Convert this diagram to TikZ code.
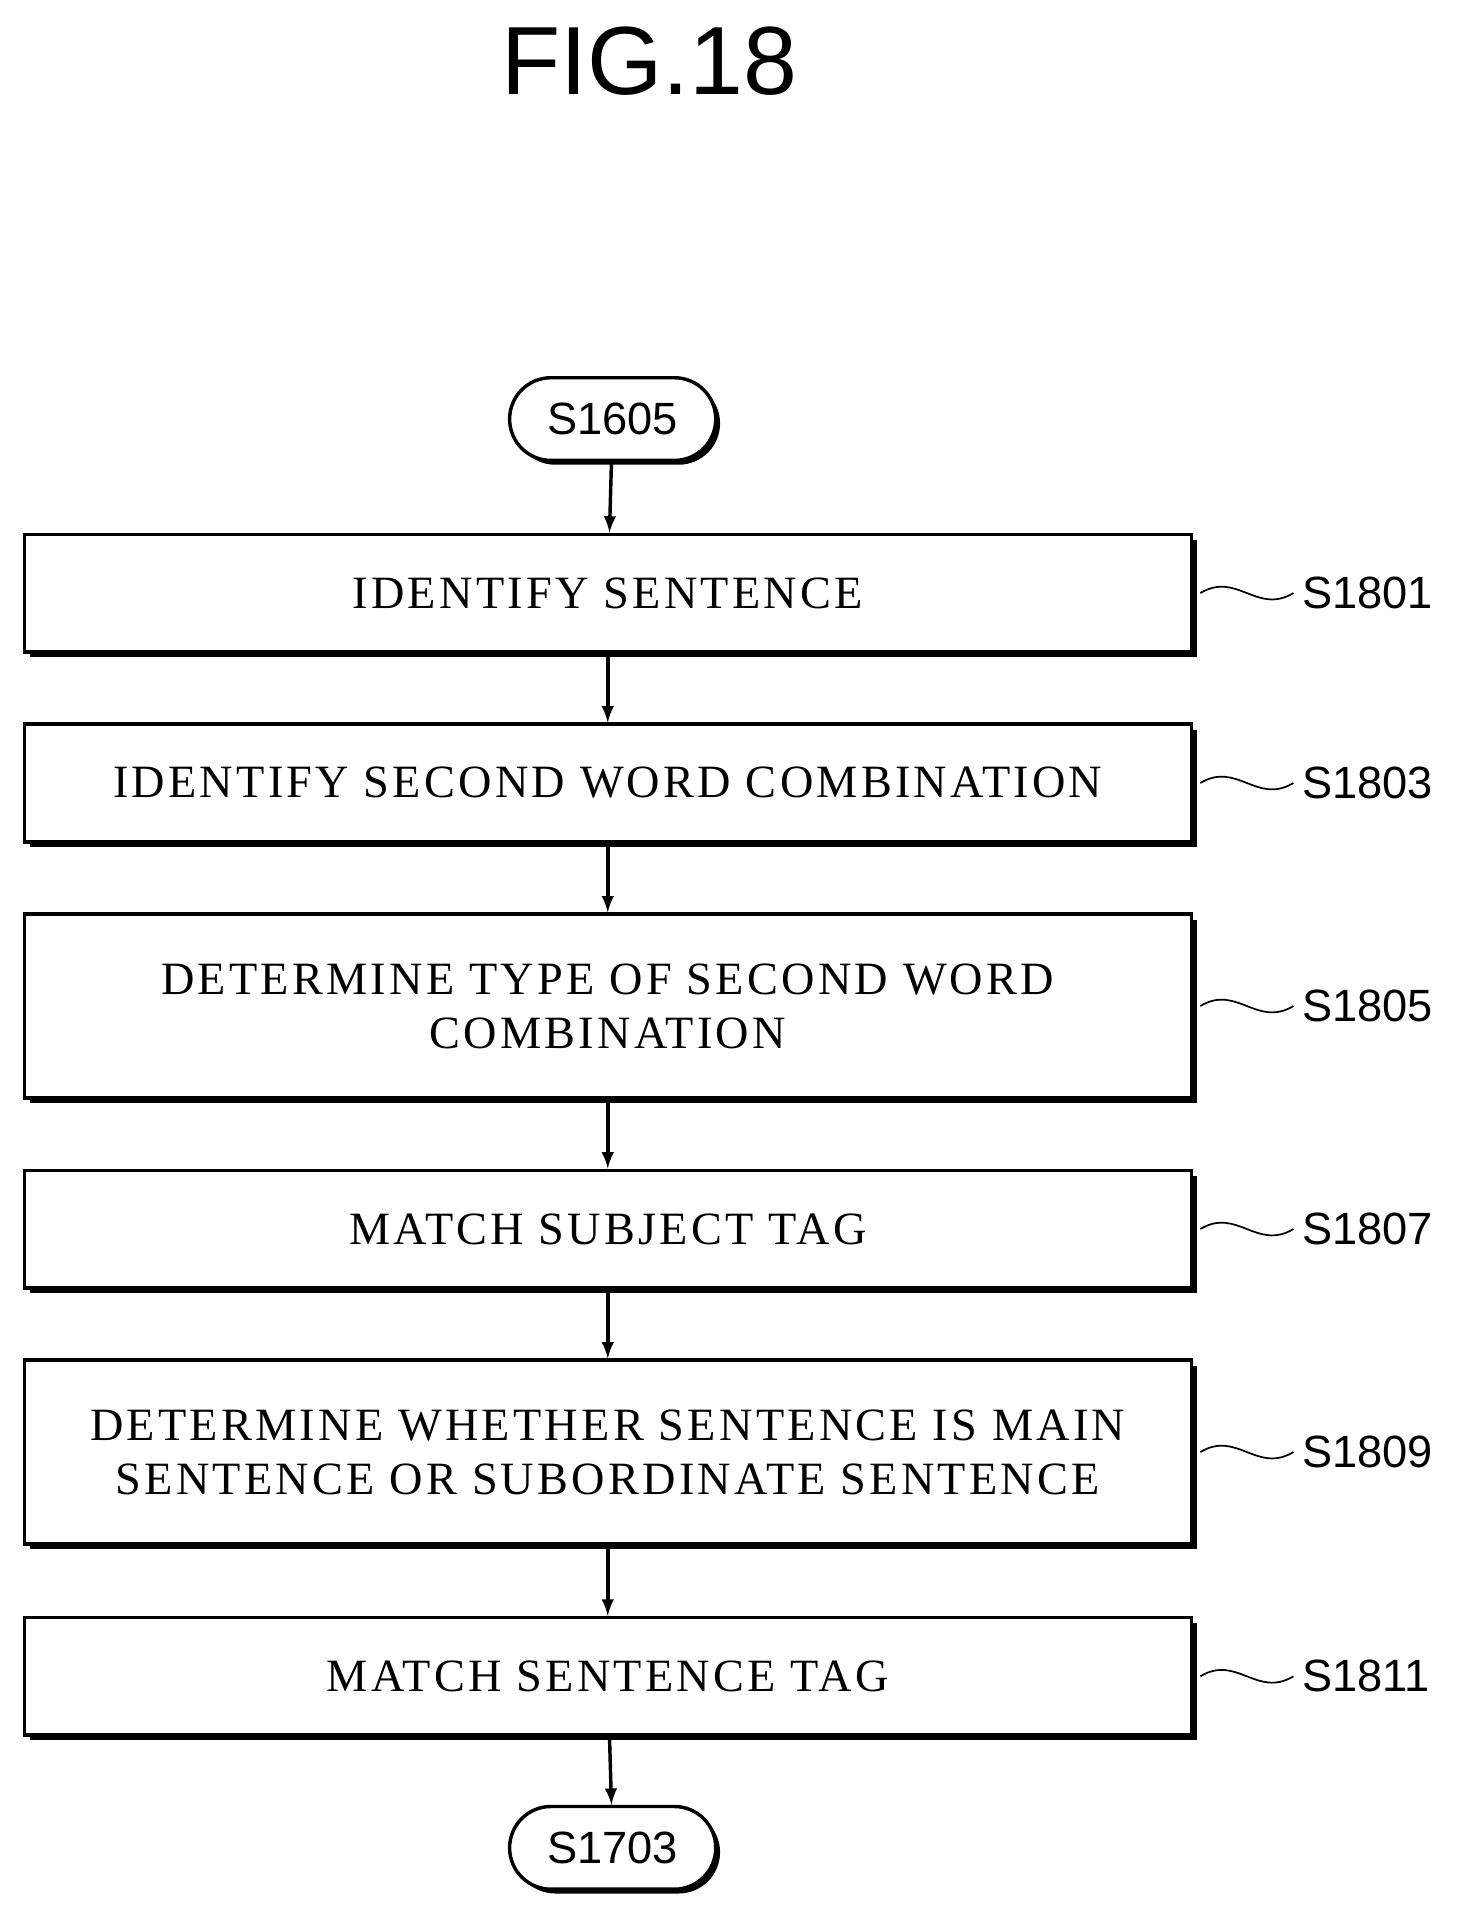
\documentclass[tikz,border=0pt]{standalone}
\usepackage{fontspec}
\setmainfont{Liberation Serif}[LetterSpace=7]
\newfontfamily\labfont{Liberation Sans}
\usetikzlibrary{shapes.misc,shadows,decorations.pathmorphing}
\begin{document}
\begin{tikzpicture}[x=0.02cm,y=-0.02cm,>={latex},line width=1.6pt,
  stepbox/.style={draw,fill=white,minimum width=19.05cm,align=center,
    font=\fontsize{21.5}{25}\selectfont,
    drop shadow={shadow xshift=2.5pt,shadow yshift=-2.5pt,fill=black,opacity=1}},
  term/.style={draw,fill=white,rounded rectangle,minimum width=3.6cm,minimum height=1.35cm,
    font=\labfont\fontsize{21}{25}\selectfont,
    drop shadow={shadow xshift=2pt,shadow yshift=-2pt,fill=black,opacity=1}},
  lab/.style={font=\labfont\fontsize{21}{25}\selectfont,anchor=west}]
  \useasboundingbox (0,0) rectangle (1190,1562);
  \node (title) at (530,50) {\labfont\fontsize{45}{52}\selectfont FIG.18};
  \node (start) at (500,342) [term] {S1605};
  \node (s1) at (496,484) [stepbox,minimum height=1.92cm] {IDENTIFY SENTENCE};
  \node (s2) at (496,639) [stepbox,minimum height=1.92cm] {IDENTIFY SECOND WORD COMBINATION};
  \node (s3) at (496,821) [stepbox,minimum height=3cm] {DETERMINE TYPE OF SECOND WORD\\COMBINATION};
  \node (s4) at (496,1003) [stepbox,minimum height=1.92cm] {MATCH SUBJECT TAG};
  \node (s5) at (496,1185) [stepbox,minimum height=3cm] {DETERMINE WHETHER SENTENCE IS MAIN\\SENTENCE OR SUBORDINATE SENTENCE};
  \node (s6) at (496,1368) [stepbox,minimum height=1.92cm] {MATCH SENTENCE TAG};
  \node (stop) at (500,1508) [term] {S1703};

  %%%% arrows
  \draw [->] (start) -- (s1);
  \draw [->] (s1) -- (s2);
  \draw [->] (s2) -- (s3);
  \draw [->] (s3) -- (s4);
  \draw [->] (s4) -- (s5);
  \draw [->] (s5) -- (s6);
  \draw [->] (s6) -- (stop);

  %%%% step labels
  \foreach \n/\t in {s1/S1801,s2/S1803,s3/S1805,s4/S1807,s5/S1809,s6/S1811}{
    \node (l\n) [lab] at ([xshift=82*0.02cm]\n.east) {\t};
    \draw [line width=0.8pt] ([xshift=6*0.02cm]\n.east) .. controls +(30,-18) and +(-30,18) .. (l\n.west);
  }
\end{tikzpicture}
\end{document}
